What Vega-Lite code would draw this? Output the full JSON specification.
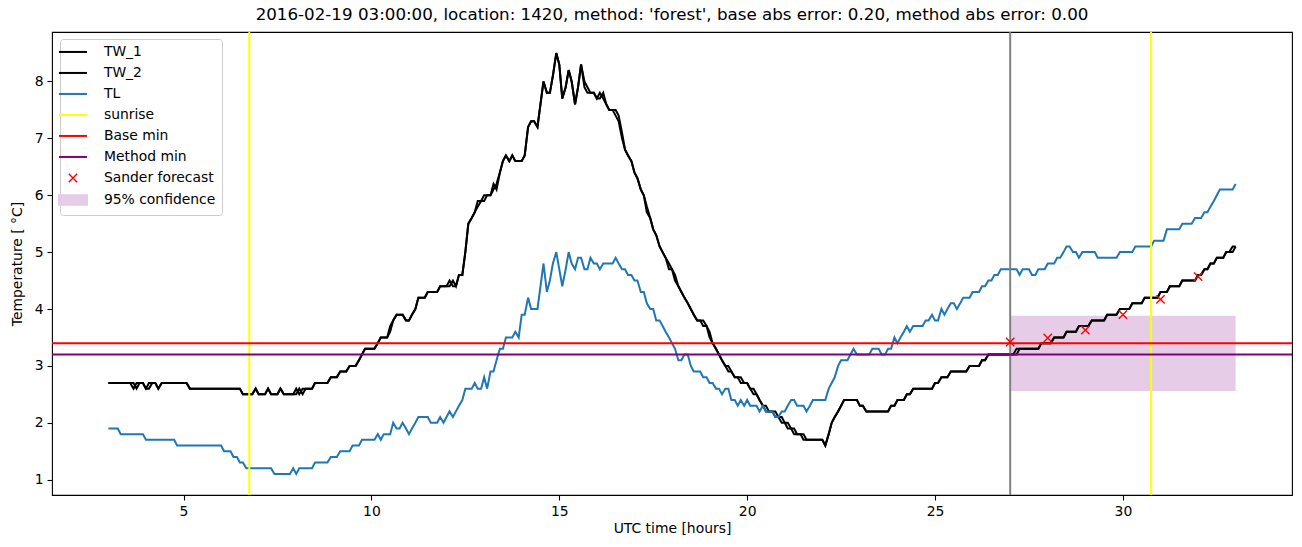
{
"$schema":"https://vega.github.io/schema/vega-lite/v6.json",
"width":1240,"height":463,
"autosize":{"type":"none"},
"padding":{"left":52,"top":32,"right":10,"bottom":52},
"background":"white",
"title":{"text":"2016-02-19 03:00:00, location: 1420, method: 'forest', base abs error: 0.20, method abs error: 0.00","fontSize":16.7,"font":"DejaVu Sans","fontWeight":"normal","offset":7,"anchor":"middle","color":"black"},
"config":{
"font":"DejaVu Sans",
"view":{"stroke":"black","strokeWidth":1.1},
"axis":{"domain":false,"grid":false,"tickColor":"black","tickSize":5,"tickWidth":1.1,"labelColor":"black","labelFontSize":13.9,"labelFont":"DejaVu Sans","titleFont":"DejaVu Sans","titleFontSize":13.9,"titleFontWeight":"normal","titleColor":"black","labelPadding":4},
"legend":{"orient":"none","legendX":8,"legendY":7,"padding":6,"strokeColor":"#cccccc","fillColor":"rgba(255,255,255,0.8)","cornerRadius":3,"labelFontSize":13.9,"labelFont":"DejaVu Sans","labelColor":"black","symbolSize":784,"rowPadding":6,"labelOffset":24,"labelLimit":300}
},
"datasets":{
"tw":[
{"s":"TW_1","t":3.0,"v":2.7},{"s":"TW_1","t":3.58,"v":2.7},{"s":"TW_1","t":3.67,"v":2.6},{"s":"TW_1","t":3.75,"v":2.7},{"s":"TW_1","t":3.92,"v":2.7},{"s":"TW_1","t":4.0,"v":2.6},{"s":"TW_1","t":4.08,"v":2.7},{"s":"TW_1","t":4.25,"v":2.7},{"s":"TW_1","t":4.33,"v":2.6},{"s":"TW_1","t":4.42,"v":2.7},{"s":"TW_1","t":5.08,"v":2.7},{"s":"TW_1","t":5.17,"v":2.6},{"s":"TW_1","t":6.5,"v":2.6},{"s":"TW_1","t":6.58,"v":2.5},{"s":"TW_1","t":6.83,"v":2.5},{"s":"TW_1","t":6.92,"v":2.6},{"s":"TW_1","t":7.0,"v":2.5},{"s":"TW_1","t":7.17,"v":2.5},{"s":"TW_1","t":7.25,"v":2.6},{"s":"TW_1","t":7.33,"v":2.5},{"s":"TW_1","t":7.5,"v":2.5},{"s":"TW_1","t":7.58,"v":2.6},{"s":"TW_1","t":7.67,"v":2.5},{"s":"TW_1","t":7.92,"v":2.5},{"s":"TW_1","t":8.0,"v":2.6},{"s":"TW_1","t":8.08,"v":2.5},{"s":"TW_1","t":8.17,"v":2.6},{"s":"TW_1","t":8.42,"v":2.6},{"s":"TW_1","t":8.5,"v":2.7},{"s":"TW_1","t":8.83,"v":2.7},{"s":"TW_1","t":8.92,"v":2.8},{"s":"TW_1","t":9.08,"v":2.8},{"s":"TW_1","t":9.17,"v":2.9},{"s":"TW_1","t":9.33,"v":2.9},{"s":"TW_1","t":9.42,"v":3.0},{"s":"TW_1","t":9.58,"v":3.0},{"s":"TW_1","t":9.67,"v":3.1},{"s":"TW_1","t":9.75,"v":3.2},{"s":"TW_1","t":9.83,"v":3.3},{"s":"TW_1","t":10.08,"v":3.3},{"s":"TW_1","t":10.17,"v":3.4},{"s":"TW_1","t":10.25,"v":3.5},{"s":"TW_1","t":10.42,"v":3.5},{"s":"TW_1","t":10.5,"v":3.7},{"s":"TW_1","t":10.58,"v":3.8},{"s":"TW_1","t":10.67,"v":3.9},{"s":"TW_1","t":10.83,"v":3.9},{"s":"TW_1","t":10.92,"v":3.8},{"s":"TW_1","t":11.0,"v":3.8},{"s":"TW_1","t":11.08,"v":3.9},{"s":"TW_1","t":11.17,"v":4.0},{"s":"TW_1","t":11.25,"v":4.2},{"s":"TW_1","t":11.42,"v":4.2},{"s":"TW_1","t":11.5,"v":4.3},{"s":"TW_1","t":11.75,"v":4.3},{"s":"TW_1","t":11.83,"v":4.4},{"s":"TW_1","t":12.0,"v":4.4},{"s":"TW_1","t":12.08,"v":4.5},{"s":"TW_1","t":12.17,"v":4.4},{"s":"TW_1","t":12.25,"v":4.4},{"s":"TW_1","t":12.33,"v":4.6},{"s":"TW_1","t":12.42,"v":4.6},{"s":"TW_1","t":12.5,"v":5.0},{"s":"TW_1","t":12.58,"v":5.5},{"s":"TW_1","t":12.67,"v":5.6},{"s":"TW_1","t":12.75,"v":5.7},{"s":"TW_1","t":12.83,"v":5.8},{"s":"TW_1","t":12.92,"v":5.9},{"s":"TW_1","t":13.0,"v":5.9},{"s":"TW_1","t":13.08,"v":6.0},{"s":"TW_1","t":13.17,"v":6.0},{"s":"TW_1","t":13.25,"v":6.1},{"s":"TW_1","t":13.33,"v":6.2},{"s":"TW_1","t":13.42,"v":6.4},{"s":"TW_1","t":13.5,"v":6.6},{"s":"TW_1","t":13.58,"v":6.7},{"s":"TW_1","t":13.67,"v":6.6},{"s":"TW_1","t":13.75,"v":6.7},{"s":"TW_1","t":13.83,"v":6.6},{"s":"TW_1","t":13.92,"v":6.6},{"s":"TW_1","t":14.0,"v":6.6},{"s":"TW_1","t":14.08,"v":6.7},{"s":"TW_1","t":14.17,"v":7.2},{"s":"TW_1","t":14.25,"v":7.3},{"s":"TW_1","t":14.33,"v":7.3},{"s":"TW_1","t":14.42,"v":7.2},{"s":"TW_1","t":14.5,"v":7.6},{"s":"TW_1","t":14.58,"v":8.0},{"s":"TW_1","t":14.67,"v":7.8},{"s":"TW_1","t":14.75,"v":7.8},{"s":"TW_1","t":14.83,"v":8.1},{"s":"TW_1","t":14.92,"v":8.5},{"s":"TW_1","t":15.0,"v":8.3},{"s":"TW_1","t":15.08,"v":7.7},{"s":"TW_1","t":15.17,"v":7.9},{"s":"TW_1","t":15.25,"v":8.2},{"s":"TW_1","t":15.33,"v":8.0},{"s":"TW_1","t":15.42,"v":7.6},{"s":"TW_1","t":15.5,"v":7.9},{"s":"TW_1","t":15.58,"v":8.3},{"s":"TW_1","t":15.67,"v":8.0},{"s":"TW_1","t":15.75,"v":7.9},{"s":"TW_1","t":15.83,"v":7.8},{"s":"TW_1","t":15.92,"v":7.8},{"s":"TW_1","t":16.0,"v":7.7},{"s":"TW_1","t":16.08,"v":7.8},{"s":"TW_1","t":16.17,"v":7.7},{"s":"TW_1","t":16.25,"v":7.6},{"s":"TW_1","t":16.33,"v":7.5},{"s":"TW_1","t":16.42,"v":7.5},{"s":"TW_1","t":16.5,"v":7.4},{"s":"TW_1","t":16.58,"v":7.3},{"s":"TW_1","t":16.67,"v":7.0},{"s":"TW_1","t":16.75,"v":6.8},{"s":"TW_1","t":16.83,"v":6.7},{"s":"TW_1","t":16.92,"v":6.6},{"s":"TW_1","t":17.0,"v":6.4},{"s":"TW_1","t":17.08,"v":6.3},{"s":"TW_1","t":17.17,"v":6.1},{"s":"TW_1","t":17.25,"v":6.0},{"s":"TW_1","t":17.33,"v":5.7},{"s":"TW_1","t":17.42,"v":5.6},{"s":"TW_1","t":17.5,"v":5.4},{"s":"TW_1","t":17.58,"v":5.3},{"s":"TW_1","t":17.67,"v":5.1},{"s":"TW_1","t":17.75,"v":5.0},{"s":"TW_1","t":17.83,"v":4.9},{"s":"TW_1","t":17.92,"v":4.7},{"s":"TW_1","t":18.0,"v":4.7},{"s":"TW_1","t":18.08,"v":4.5},{"s":"TW_1","t":18.17,"v":4.4},{"s":"TW_1","t":18.25,"v":4.3},{"s":"TW_1","t":18.33,"v":4.2},{"s":"TW_1","t":18.42,"v":4.1},{"s":"TW_1","t":18.5,"v":4.0},{"s":"TW_1","t":18.58,"v":3.9},{"s":"TW_1","t":18.67,"v":3.8},{"s":"TW_1","t":18.75,"v":3.8},{"s":"TW_1","t":18.83,"v":3.7},{"s":"TW_1","t":18.92,"v":3.7},{"s":"TW_1","t":19.0,"v":3.5},{"s":"TW_1","t":19.08,"v":3.4},{"s":"TW_1","t":19.17,"v":3.3},{"s":"TW_1","t":19.25,"v":3.2},{"s":"TW_1","t":19.33,"v":3.1},{"s":"TW_1","t":19.42,"v":3.0},{"s":"TW_1","t":19.5,"v":2.9},{"s":"TW_1","t":19.58,"v":2.9},{"s":"TW_1","t":19.67,"v":2.8},{"s":"TW_1","t":19.75,"v":2.8},{"s":"TW_1","t":19.83,"v":2.7},{"s":"TW_1","t":20.0,"v":2.7},{"s":"TW_1","t":20.08,"v":2.6},{"s":"TW_1","t":20.17,"v":2.5},{"s":"TW_1","t":20.25,"v":2.5},{"s":"TW_1","t":20.33,"v":2.4},{"s":"TW_1","t":20.42,"v":2.3},{"s":"TW_1","t":20.5,"v":2.2},{"s":"TW_1","t":20.67,"v":2.2},{"s":"TW_1","t":20.75,"v":2.1},{"s":"TW_1","t":20.83,"v":2.1},{"s":"TW_1","t":20.92,"v":2.0},{"s":"TW_1","t":21.0,"v":2.0},{"s":"TW_1","t":21.08,"v":1.9},{"s":"TW_1","t":21.17,"v":1.9},{"s":"TW_1","t":21.25,"v":1.8},{"s":"TW_1","t":21.42,"v":1.8},{"s":"TW_1","t":21.5,"v":1.7},{"s":"TW_1","t":22.0,"v":1.7},{"s":"TW_1","t":22.08,"v":1.6},{"s":"TW_1","t":22.17,"v":1.8},{"s":"TW_1","t":22.25,"v":2.0},{"s":"TW_1","t":22.33,"v":2.1},{"s":"TW_1","t":22.42,"v":2.2},{"s":"TW_1","t":22.5,"v":2.3},{"s":"TW_1","t":22.58,"v":2.4},{"s":"TW_1","t":22.92,"v":2.4},{"s":"TW_1","t":23.0,"v":2.3},{"s":"TW_1","t":23.08,"v":2.3},{"s":"TW_1","t":23.17,"v":2.2},{"s":"TW_1","t":23.75,"v":2.2},{"s":"TW_1","t":23.83,"v":2.3},{"s":"TW_1","t":23.92,"v":2.3},{"s":"TW_1","t":24.0,"v":2.4},{"s":"TW_1","t":24.17,"v":2.4},{"s":"TW_1","t":24.25,"v":2.5},{"s":"TW_1","t":24.33,"v":2.5},{"s":"TW_1","t":24.42,"v":2.6},{"s":"TW_1","t":24.92,"v":2.6},{"s":"TW_1","t":25.0,"v":2.7},{"s":"TW_1","t":25.08,"v":2.7},{"s":"TW_1","t":25.17,"v":2.8},{"s":"TW_1","t":25.33,"v":2.8},{"s":"TW_1","t":25.42,"v":2.9},{"s":"TW_1","t":25.83,"v":2.9},{"s":"TW_1","t":25.92,"v":3.0},{"s":"TW_1","t":26.17,"v":3.0},{"s":"TW_1","t":26.25,"v":3.1},{"s":"TW_1","t":26.33,"v":3.1},{"s":"TW_1","t":26.42,"v":3.2},{"s":"TW_1","t":27.08,"v":3.2},{"s":"TW_1","t":27.17,"v":3.3},{"s":"TW_1","t":27.75,"v":3.3},{"s":"TW_1","t":27.83,"v":3.4},{"s":"TW_1","t":28.08,"v":3.4},{"s":"TW_1","t":28.17,"v":3.5},{"s":"TW_1","t":28.42,"v":3.5},{"s":"TW_1","t":28.5,"v":3.6},{"s":"TW_1","t":28.75,"v":3.6},{"s":"TW_1","t":28.83,"v":3.7},{"s":"TW_1","t":29.08,"v":3.7},{"s":"TW_1","t":29.17,"v":3.8},{"s":"TW_1","t":29.5,"v":3.8},{"s":"TW_1","t":29.58,"v":3.9},{"s":"TW_1","t":29.83,"v":3.9},{"s":"TW_1","t":29.92,"v":4.0},{"s":"TW_1","t":30.17,"v":4.0},{"s":"TW_1","t":30.25,"v":4.1},{"s":"TW_1","t":30.5,"v":4.1},{"s":"TW_1","t":30.58,"v":4.2},{"s":"TW_1","t":30.92,"v":4.2},{"s":"TW_1","t":31.0,"v":4.3},{"s":"TW_1","t":31.17,"v":4.3},{"s":"TW_1","t":31.25,"v":4.4},{"s":"TW_1","t":31.5,"v":4.4},{"s":"TW_1","t":31.58,"v":4.5},{"s":"TW_1","t":31.92,"v":4.5},{"s":"TW_1","t":32.0,"v":4.6},{"s":"TW_1","t":32.08,"v":4.6},{"s":"TW_1","t":32.17,"v":4.7},{"s":"TW_1","t":32.25,"v":4.7},{"s":"TW_1","t":32.33,"v":4.8},{"s":"TW_1","t":32.42,"v":4.8},{"s":"TW_1","t":32.5,"v":4.9},{"s":"TW_1","t":32.67,"v":4.9},{"s":"TW_1","t":32.75,"v":5.0},{"s":"TW_1","t":32.83,"v":5.0},{"s":"TW_1","t":32.92,"v":5.1},{"s":"TW_1","t":33.0,"v":5.1},
{"s":"TW_2","t":3.0,"v":2.7},{"s":"TW_2","t":3.67,"v":2.7},{"s":"TW_2","t":3.75,"v":2.6},{"s":"TW_2","t":3.83,"v":2.7},{"s":"TW_2","t":3.92,"v":2.7},{"s":"TW_2","t":4.0,"v":2.6},{"s":"TW_2","t":4.08,"v":2.6},{"s":"TW_2","t":4.17,"v":2.7},{"s":"TW_2","t":4.25,"v":2.7},{"s":"TW_2","t":4.33,"v":2.6},{"s":"TW_2","t":4.42,"v":2.7},{"s":"TW_2","t":5.08,"v":2.7},{"s":"TW_2","t":5.17,"v":2.6},{"s":"TW_2","t":6.5,"v":2.6},{"s":"TW_2","t":6.58,"v":2.5},{"s":"TW_2","t":6.83,"v":2.5},{"s":"TW_2","t":6.92,"v":2.6},{"s":"TW_2","t":7.0,"v":2.5},{"s":"TW_2","t":7.17,"v":2.5},{"s":"TW_2","t":7.25,"v":2.6},{"s":"TW_2","t":7.33,"v":2.5},{"s":"TW_2","t":7.5,"v":2.5},{"s":"TW_2","t":7.58,"v":2.6},{"s":"TW_2","t":7.67,"v":2.5},{"s":"TW_2","t":7.92,"v":2.5},{"s":"TW_2","t":8.0,"v":2.5},{"s":"TW_2","t":8.08,"v":2.6},{"s":"TW_2","t":8.17,"v":2.5},{"s":"TW_2","t":8.25,"v":2.6},{"s":"TW_2","t":8.42,"v":2.6},{"s":"TW_2","t":8.5,"v":2.7},{"s":"TW_2","t":8.83,"v":2.7},{"s":"TW_2","t":8.92,"v":2.8},{"s":"TW_2","t":9.08,"v":2.8},{"s":"TW_2","t":9.17,"v":2.9},{"s":"TW_2","t":9.33,"v":2.9},{"s":"TW_2","t":9.42,"v":3.0},{"s":"TW_2","t":9.58,"v":3.0},{"s":"TW_2","t":9.67,"v":3.1},{"s":"TW_2","t":9.75,"v":3.2},{"s":"TW_2","t":9.83,"v":3.3},{"s":"TW_2","t":10.08,"v":3.3},{"s":"TW_2","t":10.17,"v":3.4},{"s":"TW_2","t":10.25,"v":3.5},{"s":"TW_2","t":10.42,"v":3.5},{"s":"TW_2","t":10.5,"v":3.6},{"s":"TW_2","t":10.58,"v":3.8},{"s":"TW_2","t":10.67,"v":3.9},{"s":"TW_2","t":10.83,"v":3.9},{"s":"TW_2","t":10.92,"v":3.8},{"s":"TW_2","t":11.0,"v":3.8},{"s":"TW_2","t":11.08,"v":3.9},{"s":"TW_2","t":11.17,"v":4.0},{"s":"TW_2","t":11.25,"v":4.2},{"s":"TW_2","t":11.42,"v":4.2},{"s":"TW_2","t":11.5,"v":4.3},{"s":"TW_2","t":11.75,"v":4.3},{"s":"TW_2","t":11.83,"v":4.4},{"s":"TW_2","t":12.08,"v":4.4},{"s":"TW_2","t":12.17,"v":4.5},{"s":"TW_2","t":12.25,"v":4.4},{"s":"TW_2","t":12.33,"v":4.6},{"s":"TW_2","t":12.42,"v":4.6},{"s":"TW_2","t":12.5,"v":5.0},{"s":"TW_2","t":12.58,"v":5.5},{"s":"TW_2","t":12.67,"v":5.6},{"s":"TW_2","t":12.75,"v":5.7},{"s":"TW_2","t":12.83,"v":5.9},{"s":"TW_2","t":12.92,"v":5.9},{"s":"TW_2","t":13.0,"v":6.0},{"s":"TW_2","t":13.17,"v":6.0},{"s":"TW_2","t":13.25,"v":6.2},{"s":"TW_2","t":13.33,"v":6.1},{"s":"TW_2","t":13.42,"v":6.4},{"s":"TW_2","t":13.5,"v":6.6},{"s":"TW_2","t":13.58,"v":6.7},{"s":"TW_2","t":13.67,"v":6.6},{"s":"TW_2","t":13.75,"v":6.7},{"s":"TW_2","t":13.83,"v":6.6},{"s":"TW_2","t":13.92,"v":6.6},{"s":"TW_2","t":14.0,"v":6.6},{"s":"TW_2","t":14.08,"v":6.7},{"s":"TW_2","t":14.17,"v":7.2},{"s":"TW_2","t":14.25,"v":7.3},{"s":"TW_2","t":14.33,"v":7.3},{"s":"TW_2","t":14.42,"v":7.2},{"s":"TW_2","t":14.5,"v":7.6},{"s":"TW_2","t":14.58,"v":8.0},{"s":"TW_2","t":14.67,"v":7.8},{"s":"TW_2","t":14.75,"v":7.8},{"s":"TW_2","t":14.83,"v":8.1},{"s":"TW_2","t":14.92,"v":8.5},{"s":"TW_2","t":15.0,"v":8.3},{"s":"TW_2","t":15.08,"v":7.7},{"s":"TW_2","t":15.17,"v":7.9},{"s":"TW_2","t":15.25,"v":8.2},{"s":"TW_2","t":15.33,"v":8.0},{"s":"TW_2","t":15.42,"v":7.6},{"s":"TW_2","t":15.5,"v":7.9},{"s":"TW_2","t":15.58,"v":8.3},{"s":"TW_2","t":15.67,"v":7.9},{"s":"TW_2","t":15.75,"v":7.8},{"s":"TW_2","t":15.83,"v":7.8},{"s":"TW_2","t":15.92,"v":7.8},{"s":"TW_2","t":16.0,"v":7.7},{"s":"TW_2","t":16.08,"v":7.7},{"s":"TW_2","t":16.17,"v":7.8},{"s":"TW_2","t":16.25,"v":7.6},{"s":"TW_2","t":16.33,"v":7.5},{"s":"TW_2","t":16.5,"v":7.5},{"s":"TW_2","t":16.58,"v":7.4},{"s":"TW_2","t":16.67,"v":7.1},{"s":"TW_2","t":16.75,"v":6.8},{"s":"TW_2","t":16.83,"v":6.7},{"s":"TW_2","t":16.92,"v":6.6},{"s":"TW_2","t":17.0,"v":6.4},{"s":"TW_2","t":17.08,"v":6.3},{"s":"TW_2","t":17.17,"v":6.1},{"s":"TW_2","t":17.25,"v":6.0},{"s":"TW_2","t":17.33,"v":5.8},{"s":"TW_2","t":17.42,"v":5.6},{"s":"TW_2","t":17.5,"v":5.4},{"s":"TW_2","t":17.58,"v":5.3},{"s":"TW_2","t":17.67,"v":5.1},{"s":"TW_2","t":17.75,"v":5.0},{"s":"TW_2","t":17.83,"v":4.9},{"s":"TW_2","t":17.92,"v":4.8},{"s":"TW_2","t":18.0,"v":4.7},{"s":"TW_2","t":18.08,"v":4.6},{"s":"TW_2","t":18.17,"v":4.4},{"s":"TW_2","t":18.25,"v":4.3},{"s":"TW_2","t":18.33,"v":4.2},{"s":"TW_2","t":18.42,"v":4.1},{"s":"TW_2","t":18.5,"v":4.0},{"s":"TW_2","t":18.58,"v":3.9},{"s":"TW_2","t":18.67,"v":3.8},{"s":"TW_2","t":18.83,"v":3.8},{"s":"TW_2","t":18.92,"v":3.7},{"s":"TW_2","t":19.0,"v":3.6},{"s":"TW_2","t":19.08,"v":3.4},{"s":"TW_2","t":19.17,"v":3.3},{"s":"TW_2","t":19.25,"v":3.2},{"s":"TW_2","t":19.33,"v":3.1},{"s":"TW_2","t":19.42,"v":3.0},{"s":"TW_2","t":19.5,"v":3.0},{"s":"TW_2","t":19.58,"v":2.9},{"s":"TW_2","t":19.67,"v":2.8},{"s":"TW_2","t":19.83,"v":2.8},{"s":"TW_2","t":19.92,"v":2.7},{"s":"TW_2","t":20.0,"v":2.7},{"s":"TW_2","t":20.08,"v":2.6},{"s":"TW_2","t":20.17,"v":2.6},{"s":"TW_2","t":20.25,"v":2.5},{"s":"TW_2","t":20.33,"v":2.4},{"s":"TW_2","t":20.42,"v":2.3},{"s":"TW_2","t":20.5,"v":2.3},{"s":"TW_2","t":20.58,"v":2.2},{"s":"TW_2","t":20.75,"v":2.2},{"s":"TW_2","t":20.83,"v":2.1},{"s":"TW_2","t":20.92,"v":2.1},{"s":"TW_2","t":21.0,"v":2.0},{"s":"TW_2","t":21.08,"v":2.0},{"s":"TW_2","t":21.17,"v":1.9},{"s":"TW_2","t":21.25,"v":1.9},{"s":"TW_2","t":21.33,"v":1.8},{"s":"TW_2","t":21.5,"v":1.8},{"s":"TW_2","t":21.58,"v":1.7},{"s":"TW_2","t":22.0,"v":1.7},{"s":"TW_2","t":22.08,"v":1.6},{"s":"TW_2","t":22.17,"v":1.8},{"s":"TW_2","t":22.25,"v":2.0},{"s":"TW_2","t":22.33,"v":2.1},{"s":"TW_2","t":22.42,"v":2.2},{"s":"TW_2","t":22.5,"v":2.3},{"s":"TW_2","t":22.58,"v":2.4},{"s":"TW_2","t":22.92,"v":2.4},{"s":"TW_2","t":23.0,"v":2.3},{"s":"TW_2","t":23.08,"v":2.3},{"s":"TW_2","t":23.17,"v":2.2},{"s":"TW_2","t":23.75,"v":2.2},{"s":"TW_2","t":23.83,"v":2.3},{"s":"TW_2","t":23.92,"v":2.3},{"s":"TW_2","t":24.0,"v":2.4},{"s":"TW_2","t":24.17,"v":2.4},{"s":"TW_2","t":24.25,"v":2.5},{"s":"TW_2","t":24.33,"v":2.5},{"s":"TW_2","t":24.42,"v":2.6},{"s":"TW_2","t":24.92,"v":2.6},{"s":"TW_2","t":25.0,"v":2.7},{"s":"TW_2","t":25.08,"v":2.7},{"s":"TW_2","t":25.17,"v":2.8},{"s":"TW_2","t":25.33,"v":2.8},{"s":"TW_2","t":25.42,"v":2.9},{"s":"TW_2","t":25.83,"v":2.9},{"s":"TW_2","t":25.92,"v":3.0},{"s":"TW_2","t":26.17,"v":3.0},{"s":"TW_2","t":26.25,"v":3.1},{"s":"TW_2","t":26.33,"v":3.1},{"s":"TW_2","t":26.42,"v":3.2},{"s":"TW_2","t":27.17,"v":3.2},{"s":"TW_2","t":27.25,"v":3.3},{"s":"TW_2","t":27.75,"v":3.3},{"s":"TW_2","t":27.83,"v":3.4},{"s":"TW_2","t":28.08,"v":3.4},{"s":"TW_2","t":28.17,"v":3.5},{"s":"TW_2","t":28.42,"v":3.5},{"s":"TW_2","t":28.5,"v":3.6},{"s":"TW_2","t":28.75,"v":3.6},{"s":"TW_2","t":28.83,"v":3.7},{"s":"TW_2","t":29.08,"v":3.7},{"s":"TW_2","t":29.17,"v":3.8},{"s":"TW_2","t":29.5,"v":3.8},{"s":"TW_2","t":29.58,"v":3.9},{"s":"TW_2","t":29.83,"v":3.9},{"s":"TW_2","t":29.92,"v":4.0},{"s":"TW_2","t":30.17,"v":4.0},{"s":"TW_2","t":30.25,"v":4.1},{"s":"TW_2","t":30.5,"v":4.1},{"s":"TW_2","t":30.58,"v":4.2},{"s":"TW_2","t":30.92,"v":4.2},{"s":"TW_2","t":31.0,"v":4.3},{"s":"TW_2","t":31.17,"v":4.3},{"s":"TW_2","t":31.25,"v":4.4},{"s":"TW_2","t":31.5,"v":4.4},{"s":"TW_2","t":31.58,"v":4.5},{"s":"TW_2","t":31.92,"v":4.5},{"s":"TW_2","t":32.0,"v":4.6},{"s":"TW_2","t":32.08,"v":4.6},{"s":"TW_2","t":32.17,"v":4.7},{"s":"TW_2","t":32.25,"v":4.7},{"s":"TW_2","t":32.33,"v":4.8},{"s":"TW_2","t":32.42,"v":4.8},{"s":"TW_2","t":32.5,"v":4.9},{"s":"TW_2","t":32.67,"v":4.9},{"s":"TW_2","t":32.75,"v":5.0},{"s":"TW_2","t":32.92,"v":5.0},{"s":"TW_2","t":33.0,"v":5.1}
],
"tl":[
{"s":"TL","t":3.0,"v":1.9},{"s":"TL","t":3.25,"v":1.9},{"s":"TL","t":3.33,"v":1.8},{"s":"TL","t":3.92,"v":1.8},{"s":"TL","t":4.0,"v":1.7},{"s":"TL","t":4.75,"v":1.7},{"s":"TL","t":4.83,"v":1.6},{"s":"TL","t":6.0,"v":1.6},{"s":"TL","t":6.08,"v":1.5},{"s":"TL","t":6.25,"v":1.5},{"s":"TL","t":6.33,"v":1.4},{"s":"TL","t":6.42,"v":1.4},{"s":"TL","t":6.5,"v":1.3},{"s":"TL","t":6.58,"v":1.3},{"s":"TL","t":6.67,"v":1.2},{"s":"TL","t":7.33,"v":1.2},{"s":"TL","t":7.42,"v":1.1},{"s":"TL","t":7.83,"v":1.1},{"s":"TL","t":7.92,"v":1.2},{"s":"TL","t":8.0,"v":1.1},{"s":"TL","t":8.08,"v":1.2},{"s":"TL","t":8.42,"v":1.2},{"s":"TL","t":8.5,"v":1.3},{"s":"TL","t":8.83,"v":1.3},{"s":"TL","t":8.92,"v":1.4},{"s":"TL","t":9.08,"v":1.4},{"s":"TL","t":9.17,"v":1.5},{"s":"TL","t":9.42,"v":1.5},{"s":"TL","t":9.5,"v":1.6},{"s":"TL","t":9.67,"v":1.6},{"s":"TL","t":9.75,"v":1.7},{"s":"TL","t":10.08,"v":1.7},{"s":"TL","t":10.17,"v":1.8},{"s":"TL","t":10.25,"v":1.7},{"s":"TL","t":10.33,"v":1.8},{"s":"TL","t":10.5,"v":1.8},{"s":"TL","t":10.58,"v":2.0},{"s":"TL","t":10.67,"v":1.9},{"s":"TL","t":10.75,"v":1.9},{"s":"TL","t":10.83,"v":2.0},{"s":"TL","t":10.92,"v":1.9},{"s":"TL","t":11.0,"v":1.8},{"s":"TL","t":11.08,"v":1.9},{"s":"TL","t":11.17,"v":2.0},{"s":"TL","t":11.25,"v":2.1},{"s":"TL","t":11.5,"v":2.1},{"s":"TL","t":11.58,"v":2.0},{"s":"TL","t":11.75,"v":2.0},{"s":"TL","t":11.83,"v":2.1},{"s":"TL","t":11.92,"v":2.0},{"s":"TL","t":12.0,"v":2.1},{"s":"TL","t":12.08,"v":2.2},{"s":"TL","t":12.17,"v":2.1},{"s":"TL","t":12.25,"v":2.2},{"s":"TL","t":12.33,"v":2.3},{"s":"TL","t":12.42,"v":2.4},{"s":"TL","t":12.5,"v":2.6},{"s":"TL","t":12.67,"v":2.6},{"s":"TL","t":12.75,"v":2.7},{"s":"TL","t":12.83,"v":2.6},{"s":"TL","t":12.92,"v":2.6},{"s":"TL","t":13.0,"v":2.8},{"s":"TL","t":13.08,"v":2.6},{"s":"TL","t":13.17,"v":2.9},{"s":"TL","t":13.25,"v":2.9},{"s":"TL","t":13.33,"v":3.1},{"s":"TL","t":13.42,"v":3.3},{"s":"TL","t":13.5,"v":3.3},{"s":"TL","t":13.58,"v":3.5},{"s":"TL","t":13.75,"v":3.5},{"s":"TL","t":13.83,"v":3.6},{"s":"TL","t":13.92,"v":3.5},{"s":"TL","t":14.0,"v":3.9},{"s":"TL","t":14.08,"v":3.9},{"s":"TL","t":14.17,"v":4.2},{"s":"TL","t":14.25,"v":4.0},{"s":"TL","t":14.42,"v":4.0},{"s":"TL","t":14.5,"v":4.4},{"s":"TL","t":14.58,"v":4.8},{"s":"TL","t":14.67,"v":4.3},{"s":"TL","t":14.75,"v":4.5},{"s":"TL","t":14.83,"v":4.8},{"s":"TL","t":14.92,"v":5.0},{"s":"TL","t":15.0,"v":4.7},{"s":"TL","t":15.08,"v":4.4},{"s":"TL","t":15.17,"v":4.7},{"s":"TL","t":15.25,"v":5.0},{"s":"TL","t":15.33,"v":4.8},{"s":"TL","t":15.42,"v":4.7},{"s":"TL","t":15.5,"v":4.9},{"s":"TL","t":15.58,"v":4.9},{"s":"TL","t":15.67,"v":4.7},{"s":"TL","t":15.75,"v":4.7},{"s":"TL","t":15.83,"v":4.9},{"s":"TL","t":15.92,"v":4.8},{"s":"TL","t":16.0,"v":4.8},{"s":"TL","t":16.08,"v":4.7},{"s":"TL","t":16.17,"v":4.8},{"s":"TL","t":16.42,"v":4.8},{"s":"TL","t":16.5,"v":4.9},{"s":"TL","t":16.58,"v":4.8},{"s":"TL","t":16.67,"v":4.7},{"s":"TL","t":16.75,"v":4.7},{"s":"TL","t":16.83,"v":4.6},{"s":"TL","t":16.92,"v":4.6},{"s":"TL","t":17.0,"v":4.5},{"s":"TL","t":17.08,"v":4.5},{"s":"TL","t":17.17,"v":4.3},{"s":"TL","t":17.25,"v":4.3},{"s":"TL","t":17.33,"v":4.1},{"s":"TL","t":17.42,"v":4.0},{"s":"TL","t":17.5,"v":4.0},{"s":"TL","t":17.58,"v":3.8},{"s":"TL","t":17.67,"v":3.8},{"s":"TL","t":17.75,"v":3.7},{"s":"TL","t":17.83,"v":3.6},{"s":"TL","t":17.92,"v":3.5},{"s":"TL","t":18.0,"v":3.4},{"s":"TL","t":18.08,"v":3.3},{"s":"TL","t":18.17,"v":3.1},{"s":"TL","t":18.25,"v":3.1},{"s":"TL","t":18.33,"v":3.2},{"s":"TL","t":18.42,"v":3.2},{"s":"TL","t":18.5,"v":3.0},{"s":"TL","t":18.58,"v":2.9},{"s":"TL","t":18.75,"v":2.9},{"s":"TL","t":18.83,"v":2.8},{"s":"TL","t":18.92,"v":2.8},{"s":"TL","t":19.0,"v":2.7},{"s":"TL","t":19.08,"v":2.7},{"s":"TL","t":19.17,"v":2.6},{"s":"TL","t":19.25,"v":2.6},{"s":"TL","t":19.33,"v":2.5},{"s":"TL","t":19.42,"v":2.6},{"s":"TL","t":19.5,"v":2.6},{"s":"TL","t":19.58,"v":2.4},{"s":"TL","t":19.67,"v":2.4},{"s":"TL","t":19.75,"v":2.3},{"s":"TL","t":19.83,"v":2.4},{"s":"TL","t":19.92,"v":2.3},{"s":"TL","t":20.0,"v":2.4},{"s":"TL","t":20.08,"v":2.3},{"s":"TL","t":20.25,"v":2.3},{"s":"TL","t":20.33,"v":2.2},{"s":"TL","t":20.42,"v":2.3},{"s":"TL","t":20.5,"v":2.2},{"s":"TL","t":20.67,"v":2.2},{"s":"TL","t":20.75,"v":2.1},{"s":"TL","t":20.83,"v":2.1},{"s":"TL","t":20.92,"v":2.2},{"s":"TL","t":21.0,"v":2.2},{"s":"TL","t":21.08,"v":2.3},{"s":"TL","t":21.17,"v":2.4},{"s":"TL","t":21.25,"v":2.4},{"s":"TL","t":21.33,"v":2.3},{"s":"TL","t":21.5,"v":2.3},{"s":"TL","t":21.58,"v":2.2},{"s":"TL","t":21.67,"v":2.3},{"s":"TL","t":21.75,"v":2.4},{"s":"TL","t":22.08,"v":2.4},{"s":"TL","t":22.17,"v":2.6},{"s":"TL","t":22.25,"v":2.7},{"s":"TL","t":22.33,"v":2.8},{"s":"TL","t":22.42,"v":3.0},{"s":"TL","t":22.5,"v":3.1},{"s":"TL","t":22.67,"v":3.1},{"s":"TL","t":22.75,"v":3.2},{"s":"TL","t":22.83,"v":3.3},{"s":"TL","t":22.92,"v":3.2},{"s":"TL","t":23.25,"v":3.2},{"s":"TL","t":23.33,"v":3.3},{"s":"TL","t":23.5,"v":3.3},{"s":"TL","t":23.58,"v":3.2},{"s":"TL","t":23.67,"v":3.2},{"s":"TL","t":23.75,"v":3.3},{"s":"TL","t":23.83,"v":3.3},{"s":"TL","t":23.92,"v":3.5},{"s":"TL","t":24.0,"v":3.4},{"s":"TL","t":24.08,"v":3.5},{"s":"TL","t":24.17,"v":3.6},{"s":"TL","t":24.25,"v":3.7},{"s":"TL","t":24.33,"v":3.6},{"s":"TL","t":24.42,"v":3.7},{"s":"TL","t":24.67,"v":3.7},{"s":"TL","t":24.75,"v":3.8},{"s":"TL","t":24.83,"v":3.8},{"s":"TL","t":24.92,"v":3.9},{"s":"TL","t":25.0,"v":3.8},{"s":"TL","t":25.08,"v":3.8},{"s":"TL","t":25.17,"v":4.0},{"s":"TL","t":25.25,"v":3.9},{"s":"TL","t":25.33,"v":4.0},{"s":"TL","t":25.42,"v":4.1},{"s":"TL","t":25.5,"v":4.1},{"s":"TL","t":25.58,"v":4.0},{"s":"TL","t":25.67,"v":4.1},{"s":"TL","t":25.75,"v":4.2},{"s":"TL","t":25.92,"v":4.2},{"s":"TL","t":26.0,"v":4.3},{"s":"TL","t":26.17,"v":4.3},{"s":"TL","t":26.25,"v":4.4},{"s":"TL","t":26.33,"v":4.4},{"s":"TL","t":26.42,"v":4.5},{"s":"TL","t":26.5,"v":4.5},{"s":"TL","t":26.58,"v":4.6},{"s":"TL","t":26.67,"v":4.6},{"s":"TL","t":26.75,"v":4.7},{"s":"TL","t":27.17,"v":4.7},{"s":"TL","t":27.25,"v":4.6},{"s":"TL","t":27.33,"v":4.7},{"s":"TL","t":27.5,"v":4.7},{"s":"TL","t":27.58,"v":4.6},{"s":"TL","t":27.67,"v":4.6},{"s":"TL","t":27.75,"v":4.7},{"s":"TL","t":27.92,"v":4.7},{"s":"TL","t":28.0,"v":4.8},{"s":"TL","t":28.17,"v":4.8},{"s":"TL","t":28.25,"v":4.9},{"s":"TL","t":28.33,"v":4.9},{"s":"TL","t":28.42,"v":5.0},{"s":"TL","t":28.5,"v":5.1},{"s":"TL","t":28.58,"v":5.1},{"s":"TL","t":28.67,"v":5.0},{"s":"TL","t":28.75,"v":5.0},{"s":"TL","t":28.83,"v":4.9},{"s":"TL","t":28.92,"v":5.0},{"s":"TL","t":29.25,"v":5.0},{"s":"TL","t":29.33,"v":4.9},{"s":"TL","t":29.83,"v":4.9},{"s":"TL","t":29.92,"v":5.0},{"s":"TL","t":30.25,"v":5.0},{"s":"TL","t":30.33,"v":5.1},{"s":"TL","t":30.75,"v":5.1},{"s":"TL","t":30.83,"v":5.2},{"s":"TL","t":31.08,"v":5.2},{"s":"TL","t":31.17,"v":5.4},{"s":"TL","t":31.5,"v":5.4},{"s":"TL","t":31.58,"v":5.5},{"s":"TL","t":31.83,"v":5.5},{"s":"TL","t":31.92,"v":5.6},{"s":"TL","t":32.08,"v":5.6},{"s":"TL","t":32.17,"v":5.7},{"s":"TL","t":32.25,"v":5.7},{"s":"TL","t":32.33,"v":5.8},{"s":"TL","t":32.42,"v":5.9},{"s":"TL","t":32.5,"v":6.0},{"s":"TL","t":32.58,"v":6.1},{"s":"TL","t":32.92,"v":6.1},{"s":"TL","t":33.0,"v":6.2}
],
"vlines":[{"s":"sunrise","t":6.75},{"s":"sunrise","t":30.75}],
"now":[{"t":27}],
"hlines":[{"s":"Base min","v":3.4},{"s":"Method min","v":3.2}],
"fc":[{"s":"Sander forecast","t":27,"v":3.42},{"s":"Sander forecast","t":28,"v":3.49},{"s":"Sander forecast","t":29,"v":3.63},{"s":"Sander forecast","t":30,"v":3.9},{"s":"Sander forecast","t":31,"v":4.17},{"s":"Sander forecast","t":32,"v":4.57}],
"band":[{"s":"95% confidence","t":27,"t2":33,"lo":2.56,"hi":3.88}]
},
"layer":[
{"data":{"name":"band"},"mark":{"type":"rect"},
 "encoding":{
  "x":{"field":"t","type":"quantitative","scale":{"domain":[1.5,34.5],"nice":false,"zero":false},"axis":{"values":[5,10,15,20,25,30],"title":"UTC time [hours]","titlePadding":4}},
  "x2":{"field":"t2"},
  "y":{"field":"lo","type":"quantitative","scale":{"domain":[0.73,8.87],"nice":false,"zero":false},"axis":{"values":[1,2,3,4,5,6,7,8],"format":"d","title":"Temperature [ °C]","titlePadding":10}},
  "y2":{"field":"hi"},
  "color":{"field":"s","type":"nominal","scale":{"domain":["TW_1","TW_2","TL","sunrise","Base min","Method min","Sander forecast","95% confidence"],"range":["#000000","#000000","#1f77b4","#ffff00","#ff0000","#800080","#ff0000","#e6cce6"]},
   "legend":{"title":null,"encode":{"symbols":{"update":{"fill":{"signal":"datum.value === '95% confidence' ? '#e6cce6' : 'transparent'"},"stroke":{"scale":"color","field":"value"},"strokeWidth":{"signal":"datum.value === 'Sander forecast' ? 1.4 : 2"},"opacity":{"value":1}}}}}}
 }},
{"data":{"name":"tw"},"mark":{"type":"line","strokeWidth":2},
 "encoding":{
  "x":{"field":"t","type":"quantitative","title":"UTC time [hours]"},
  "y":{"field":"v","type":"quantitative","title":"Temperature [ °C]"},
  "color":{"field":"s","type":"nominal"},
  "detail":{"field":"s"}
 }},
{"data":{"name":"tl"},"mark":{"type":"line","strokeWidth":2},
 "encoding":{
  "x":{"field":"t","type":"quantitative","title":"UTC time [hours]"},
  "y":{"field":"v","type":"quantitative","title":"Temperature [ °C]"},
  "color":{"field":"s","type":"nominal"}
 }},
{"data":{"name":"vlines"},"mark":{"type":"rule","strokeWidth":2},
 "encoding":{
  "x":{"field":"t","type":"quantitative","title":"UTC time [hours]"},
  "color":{"field":"s","type":"nominal"}
 }},
{"data":{"name":"now"},"mark":{"type":"rule","strokeWidth":2,"color":"#808080"},
 "encoding":{
  "x":{"field":"t","type":"quantitative","title":"UTC time [hours]"}
 }},
{"data":{"name":"hlines"},"mark":{"type":"rule","strokeWidth":2},
 "encoding":{
  "y":{"field":"v","type":"quantitative","title":"Temperature [ °C]"},
  "color":{"field":"s","type":"nominal"}
 }},
{"data":{"name":"fc"},"mark":{"type":"point","filled":false,"size":770,"strokeWidth":1.4,"opacity":1},
 "encoding":{
  "x":{"field":"t","type":"quantitative","title":"UTC time [hours]"},
  "y":{"field":"v","type":"quantitative","title":"Temperature [ °C]"},
  "color":{"field":"s","type":"nominal"},
  "shape":{"field":"s","type":"nominal","scale":{"domain":["TW_1","TW_2","TL","sunrise","Base min","Method min","Sander forecast","95% confidence"],"range":["stroke","stroke","stroke","stroke","stroke","stroke","M-0.3,-0.3L0.3,0.3M0.3,-0.3L-0.3,0.3","M-1,-0.34H1V0.34H-1Z"]},"legend":{"title":null}}
 }}
]
}
